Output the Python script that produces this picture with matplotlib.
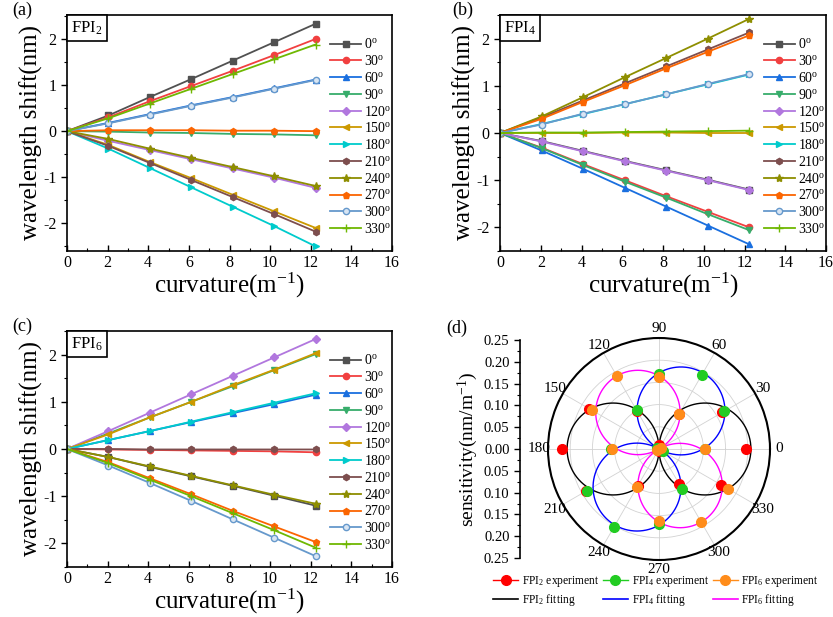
import numpy as np
import matplotlib
matplotlib.use('Agg')
import matplotlib.pyplot as plt
from matplotlib.offsetbox import AnchoredText
from matplotlib.ticker import MultipleLocator, FuncFormatter
from matplotlib.lines import Line2D

plt.rcParams['font.family'] = 'Liberation Serif'
plt.rcParams['mathtext.fontset'] = 'custom'
plt.rcParams['mathtext.rm'] = 'Liberation Serif'
plt.rcParams['mathtext.default'] = 'regular'
plt.rcParams['axes.unicode_minus'] = False

W, H = 833, 617

# bending directions (deg) and curvature points (1/m)
ANGLES = [0, 30, 60, 90, 120, 150, 180, 210, 240, 270, 300, 330]
CURV = [0, 2.04, 4.08, 6.12, 8.16, 10.2, 12.24]

# wavelength shift (nm), one row per angle
FPI2_SHIFT = [
    [0, 0.34, 0.74, 1.13, 1.53, 1.93, 2.33],
    [0, 0.30, 0.65, 0.98, 1.31, 1.65, 2.00],
    [0, 0.18, 0.37, 0.56, 0.74, 0.93, 1.12],
    [0, -0.01, -0.03, -0.04, -0.06, -0.07, -0.09],
    [0, -0.21, -0.41, -0.61, -0.81, -1.01, -1.23],
    [0, -0.30, -0.67, -1.02, -1.38, -1.74, -2.10],
    [0, -0.38, -0.80, -1.22, -1.64, -2.06, -2.50],
    [0, -0.32, -0.69, -1.06, -1.43, -1.80, -2.18],
    [0, -0.17, -0.38, -0.58, -0.78, -0.98, -1.19],
    [0, 0.02, 0.02, 0.02, 0.01, 0.01, 0.00],
    [0, 0.17, 0.36, 0.55, 0.73, 0.92, 1.11],
    [0, 0.28, 0.60, 0.92, 1.24, 1.56, 1.88],
]
FPI4_SHIFT = [
    [0, -0.17, -0.38, -0.59, -0.79, -0.99, -1.20],
    [0, -0.31, -0.66, -1.00, -1.34, -1.67, -2.00],
    [0, -0.37, -0.76, -1.16, -1.56, -1.96, -2.36],
    [0, -0.32, -0.68, -1.03, -1.37, -1.72, -2.06],
    [0, -0.18, -0.39, -0.60, -0.80, -1.00, -1.21],
    [0, 0.00, 0.00, 0.01, 0.01, 0.00, 0.00],
    [0, 0.19, 0.40, 0.61, 0.82, 1.03, 1.24],
    [0, 0.33, 0.69, 1.05, 1.41, 1.77, 2.13],
    [0, 0.35, 0.76, 1.18, 1.59, 2.00, 2.42],
    [0, 0.30, 0.66, 1.01, 1.37, 1.72, 2.07],
    [0, 0.18, 0.41, 0.61, 0.82, 1.04, 1.25],
    [0, 0.01, 0.01, 0.02, 0.03, 0.04, 0.05],
]
FPI6_SHIFT = [
    [0, -0.17, -0.38, -0.58, -0.78, -0.99, -1.20],
    [0, -0.01, -0.02, -0.03, -0.04, -0.05, -0.07],
    [0, 0.19, 0.38, 0.57, 0.76, 0.95, 1.15],
    [0, 0.33, 0.67, 1.00, 1.33, 1.67, 2.01],
    [0, 0.38, 0.77, 1.16, 1.55, 1.94, 2.33],
    [0, 0.31, 0.67, 1.00, 1.35, 1.68, 2.03],
    [0, 0.19, 0.38, 0.58, 0.78, 0.98, 1.18],
    [0, 0.00, -0.01, -0.01, -0.01, -0.01, -0.01],
    [0, -0.17, -0.37, -0.57, -0.77, -0.97, -1.16],
    [0, -0.28, -0.62, -0.96, -1.31, -1.64, -1.97],
    [0, -0.35, -0.72, -1.10, -1.49, -1.88, -2.27],
    [0, -0.30, -0.65, -1.00, -1.36, -1.72, -2.09],
]

# sensitivity (nm/m^-1) vs direction
FPI2_SENS = [0.197, 0.165, 0.09, 0.01, 0.10, 0.181, 0.218, 0.19, 0.095, 0.005, 0.092, 0.16]
FPI4_SENS = [0.104, 0.17, 0.193, 0.17, 0.101, 0.005, 0.108, 0.188, 0.203, 0.17, 0.105, 0.01]
FPI6_SENS = [0.104, 0.005, 0.092, 0.163, 0.191, 0.174, 0.105, 0.005, 0.10, 0.163, 0.19, 0.179]
# fitting: amplitude, direction of max
FIT_AMP = [0.207, 0.198, 0.19]
FIT_PHASE = [0, 60, 120]

COLORS = ['#515151', '#F14040', '#1A6FDF', '#37AD6B', '#B177DE', '#CC9900',
          '#00CBCC', '#7D4E4E', '#8E8E00', '#FB6501', '#6699CC', '#6FB802']
MARKERS = ['s', 'o', '^', 'v', 'D', '<', '>', 'h', '*', 'p', 'o', '+']
MSIZE = [4, 4.5, 4.5, 4.5, 4, 4.5, 4.5, 4.5, 6, 5, 4.5, 6]


def fx(px):
    return px / W


def fy(py):
    return 1 - py / H


def shift_panel(rect, shifts, name, ylim):
    ax = fig.add_axes(rect)
    for i, ang in enumerate(ANGLES):
        mfc = '#d8e5f3' if i == 10 else COLORS[i]
        ax.plot(CURV, shifts[i], color=COLORS[i], marker=MARKERS[i], ms=MSIZE[i],
                mfc=mfc, mew=1.0, lw=1.3, label='%d$^{o}$' % ang)
    ax.set_xlim(0, 16)
    ax.set_ylim(*ylim)
    ax.set_xticks(range(0, 17, 2))
    ax.xaxis.set_minor_locator(MultipleLocator(1))
    ax.yaxis.set_major_locator(MultipleLocator(1))
    ax.yaxis.set_minor_locator(MultipleLocator(0.5))
    ax.tick_params(axis='x', which='both', direction='in', labelsize=11.5, pad=3)
    ax.tick_params(axis='y', which='both', direction='out', labelsize=11.5)
    ax.tick_params(which='major', length=4, width=1)
    ax.tick_params(which='minor', length=2.5, width=0.8)
    for s in ax.spines.values():
        s.set_linewidth(1.2)
    ax.set_xlabel('curvature(m$^{-1}$)', fontsize=18)
    ax.set_ylabel('wavelength shift(nm)', fontsize=18)
    ax.xaxis.set_label_coords(0.5, -0.085)
    ax.yaxis.set_label_coords(-0.075, 0.5)
    ax.legend(loc='upper left', bbox_to_anchor=(0.81, 0.905), frameon=False,
              fontsize=10, handlelength=2.2, handletextpad=0.25, labelspacing=0.2,
              borderpad=0, borderaxespad=0, numpoints=1)
    at = AnchoredText('FPI$_{%s}$' % name, loc='upper left', borderpad=0, pad=0.25,
                      prop=dict(size=12))
    at.patch.set_boxstyle('square,pad=0')
    at.patch.set_linewidth(1.2)
    ax.add_artist(at)
    return ax


fig = plt.figure(figsize=(W / 100, H / 100), dpi=100)

shift_panel([fx(67), fy(251), fx(392) - fx(67), fy(15) - fy(251)], FPI2_SHIFT, '2', (-2.6, 2.52))
shift_panel([fx(500), fy(251), fx(826) - fx(500), fy(15) - fy(251)], FPI4_SHIFT, '4', (-2.5, 2.5))
shift_panel([fx(67), fy(567), fx(392) - fx(67), fy(331) - fy(567)], FPI6_SHIFT, '6', (-2.5, 2.5))

# (d) polar plot
cx, cy, rad = 659, 449, 111
pax = fig.add_axes([fx(cx - rad), fy(cy + rad), 2 * rad / W, 2 * rad / H], projection='polar')
pax.set_ylim(0, 0.25)
pax.set_rticks([0.05, 0.10, 0.15, 0.20, 0.25])
pax.set_yticklabels([])
pax.set_thetagrids(np.arange(0, 360, 30), labels=[str(a) for a in range(0, 360, 30)], fontsize=11)
pax.tick_params(axis='x', pad=-4)
pax.grid(color='#d2d2d2', lw=0.6)
pax.spines['polar'].set_linewidth(1.5)

theta = np.linspace(0, 2 * np.pi, 721)
for amp, ph, c in zip(FIT_AMP, FIT_PHASE, ['black', '#0000FF', '#FF00FF']):
    pax.plot(theta, amp * np.abs(np.cos(theta - np.radians(ph))), color=c, lw=1.0)

th = np.radians(ANGLES)
for sens, c in zip([FPI2_SENS, FPI4_SENS, FPI6_SENS], ['#FF0000', '#22CC22', '#FF8C1A']):
    pax.plot(th, sens, 'o', color=c, ms=7, zorder=5, clip_on=False)

# radial scale on the left
sax = fig.add_axes([fx(520), fy(558), 0.01, fy(340) - fy(558)])
sax.set_ylim(-0.25, 0.25)
sax.set_yticks(np.arange(-0.25, 0.2501, 0.05))
sax.yaxis.set_minor_locator(MultipleLocator(0.025))
sax.yaxis.set_major_formatter(FuncFormatter(lambda v, p: '%.2f' % abs(v)))
sax.set_xticks([])
sax.patch.set_visible(False)
for k in ['top', 'right', 'bottom']:
    sax.spines[k].set_visible(False)
sax.spines['left'].set_linewidth(1.2)
sax.tick_params(axis='y', which='both', direction='out', labelsize=10.5)
sax.tick_params(which='major', length=4, width=1)
sax.tick_params(which='minor', length=2.5, width=0.8)
sax.set_ylabel('sensitivity(nm/m$^{-1}$)', fontsize=14)
sax.yaxis.set_label_coords(-40 / 0.01 / W, 0.5)

handles = [
    Line2D([], [], color='#FF0000', marker='o', ms=7, lw=1.0),
    Line2D([], [], color='black', lw=1.2),
    Line2D([], [], color='#22CC22', marker='o', ms=7, lw=1.0),
    Line2D([], [], color='#0000FF', lw=1.2),
    Line2D([], [], color='#FF8C1A', marker='o', ms=7, lw=1.0),
    Line2D([], [], color='#FF00FF', lw=1.2),
]
labels = ['FPI$_2$ experiment', 'FPI$_2$ fitting', 'FPI$_4$ experiment', 'FPI$_4$ fitting',
          'FPI$_6$ experiment', 'FPI$_6$ fitting']
fig.legend(handles, labels, loc='upper left', bbox_to_anchor=(fx(493), fy(574)), ncol=3,
           frameon=False, fontsize=8.3, handlelength=2.2, handletextpad=0.3,
           columnspacing=0.3, labelspacing=0.3, borderpad=0, borderaxespad=0, numpoints=1)

for lab, x, y in [('(a)', 12, 2), ('(b)', 452, 2), ('(c)', 12, 318), ('(d)', 446, 320)]:
    fig.text(fx(x), fy(y), lab, fontsize=13, va='top', ha='left')

fig.savefig('out.png', dpi=100)
